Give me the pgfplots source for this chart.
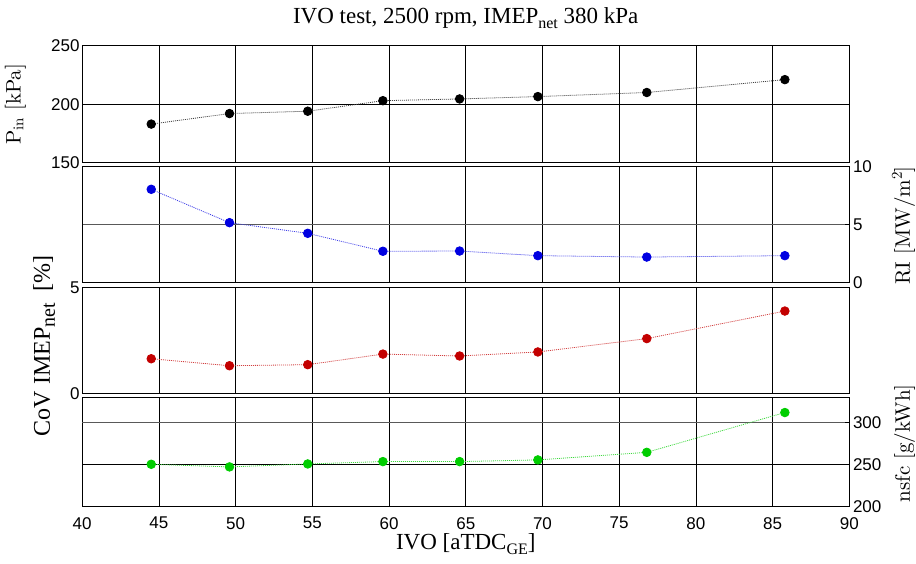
\documentclass[border=0pt]{standalone}
\usepackage[no-math]{fontspec}
\setmainfont{Liberation Serif}
\setsansfont{Liberation Sans}
\newfontfamily\lmfont[Extension=.otf]{lmroman10-regular}
\usepackage{pgfplots}
\pgfplotsset{compat=1.18}

\definecolor{cblue}{RGB}{0,0,225}
\definecolor{cred}{RGB}{195,0,0}
\definecolor{cgreen}{RGB}{0,205,0}

\newcommand{\tsub}[1]{\raisebox{-0.45ex}{\fontsize{16}{16}\selectfont #1}}
\newcommand{\csub}[1]{\raisebox{-0.45ex}{\fontsize{20}{20}\selectfont #1}}
\newcommand{\lsub}[1]{\raisebox{-0.3ex}{\fontsize{15}{15}\selectfont #1}}
\newcommand{\lsup}[1]{\raisebox{0.9ex}{\fontsize{15}{15}\selectfont #1}}
\newcommand{\lbfont}{\rmfamily\fontsize{23}{26}\selectfont}
\newcommand{\cmlab}{\lmfont\fontsize{21}{24}\selectfont}

\pgfplotstableread{
x p ri cov nsfc
44.5 183.0 8.03 1.63 250.4
49.6 192.0 5.15 1.30 247.3
54.7 194.0 4.23 1.35 250.8
59.6 203.0 2.68 1.85 253.6
64.6 204.5 2.70 1.76 253.6
69.7 206.5 2.30 1.95 255.6
76.8 210.0 2.18 2.58 264.6
85.8 221.0 2.30 3.88 311.9
}\data

\pgfplotsset{
  panel/.style={
    scale only axis, width=767.1pt, anchor=north west,
    xmin=40, xmax=90, xtick={40,45,...,90}, xticklabels={},
    xmajorgrids, ymajorgrids,
    grid style={black, line width=0.6pt},
    axis line style={black, line width=1.2pt},
    tick style={black, line width=0.6pt},
    tick align=inside, major tick length=4pt, xtick pos=both,
    tick label style={font=\sffamily\fontsize{17}{17}\selectfont},
    /pgf/number format/assume math mode=true,
  },
  rightaxis/.style={ytick pos=right, yticklabel pos=right,
    yticklabel style={anchor=west, inner sep=0pt, xshift=3.5pt}},
  leftaxis/.style={ytick pos=left,
    yticklabel style={anchor=east, inner sep=0pt, xshift=-2.5pt}},
  series/.style={color=#1!75, line width=0.8pt, dash pattern=on 1pt off 1pt,
    mark=*, mark size=4.3pt, mark options={solid, fill=#1, draw=#1}},
}

\begin{document}
\begin{tikzpicture}[x=1pt,y=1pt]
\path[use as bounding box] (0,0) rectangle (916,-564);

% Panel 1
\begin{axis}[panel, leftaxis, at={(82.2pt,-45.7pt)}, height=117pt,
  ymin=150, ymax=250, ytick={150,200,250},
  ylabel={\cmlab P\lsub{in} [kPa]},
  ylabel style={at={(axis description cs:-0.0802,0.5)}, anchor=base},
  title={\lbfont IVO test, 2500 rpm, IMEP\tsub{net} 380 kPa},
  title style={at={(axis description cs:0.5,1)}, anchor=base, yshift=16.2pt, inner sep=0pt},
]
\addplot[series=black] table[x=x, y=p] {\data};
\end{axis}

% Panel 2
\begin{axis}[panel, rightaxis, at={(82.2pt,-166.5pt)}, height=115.8pt,
  ymin=0, ymax=10, ytick={0,5,10},
  y grid style={gray!70!black, line width=1pt},
  ylabel={\cmlab RI [MW/m\lsup{2}]},
  ylabel style={at={(axis description cs:1.0791,0.49)}, anchor=base},
]
\addplot[series=cblue] table[x=x, y=ri] {\data};
\end{axis}

% Panel 3
\begin{axis}[panel, leftaxis, at={(82.2pt,-287.3pt)}, height=106pt,
  ymin=0, ymax=5, ytick={0,5},
  ylabel={\rmfamily\fontsize{24}{27}\selectfont CoV IMEP\csub{net}\hspace{12pt}[\%]},
  ylabel style={at={(axis description cs:-0.042,0.45)}, anchor=base},
]
\addplot[series=cred] table[x=x, y=cov] {\data};
\end{axis}

% Panel 4
\begin{axis}[panel, rightaxis, at={(82.2pt,-397.3pt)}, height=109.4pt,
  ymin=200, ymax=330, ytick={200,250},
  extra y ticks={300}, extra y tick style={grid style={gray!70!black, line width=1pt}},
  xticklabels={40,45,50,55,60,65,70,75,80,85,90},
  xticklabel style={anchor=north, inner sep=0pt, yshift=-10.3pt},
  xtick pos=both, xticklabel pos=bottom,
  xlabel={\lbfont IVO [aTDC\tsub{GE}]},
  xlabel style={at={(axis description cs:0.5,0)}, anchor=base, yshift=-43pt, inner sep=0pt},
  ylabel={\cmlab nsfc [g/kWh]},
  ylabel style={at={(axis description cs:1.0791,0.58)}, anchor=base},
]
\addplot[series=cgreen] table[x=x, y=nsfc] {\data};
\end{axis}
\end{tikzpicture}
\end{document}
